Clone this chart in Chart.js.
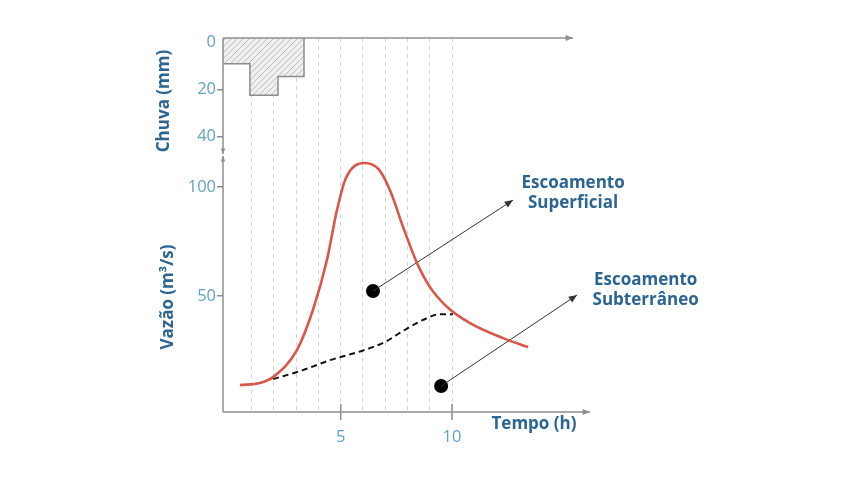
<!DOCTYPE html>
<html>
<head>
<meta charset="utf-8">
<script src="https://cdn.jsdelivr.net/npm/chart.js@4.4.0/dist/chart.umd.min.js"></script>
<style>
html, body { margin: 0; padding: 0; background: #fff; }
#wrap { width: 851px; height: 481px; }
</style>
</head>
<body>
<div id="wrap"><canvas id="grafico"></canvas></div>
<script>
// hidrograma: tempo (h) e vazão (m³/s)
const tempoTotal = [0.47, 1.37, 1.96, 3.03, 3.75, 4.38, 4.83, 5.22, 6.07, 6.70, 7.21, 7.80, 8.43, 9.01, 9.78, 10.81, 12.29, 13.42];
const vazaoTotal = [9.2, 10.1, 12.8, 25.2, 43.6, 66.5, 89.4, 103.8, 111, 108.2, 98.6, 81.7, 65.1, 54.1, 45, 37.6, 30.7, 26.6];
const tempoBase = [1.96, 3.30, 4.52, 6.0, 7.0, 7.80, 8.88, 9.46, 10.04];
const vazaoBase = [11.9, 16, 20.6, 25.0, 29.0, 34.0, 39.9, 41.7, 41.7];

// hietograma: limites dos intervalos (h) e altura de chuva (mm)
const tempoChuva = [-0.29, 0.92, 2.18, 3.35];
const alturaChuva = [9, 22.5, 14.5];

// marcadores, setas e rótulos
const marcadores = [{x: 6.45, y: 52.3}, {x: 9.51, y: 8.7}];
const pontasSetas = [{x: 12.74, y: 94}, {x: 15.62, y: 50.5}];
const rotulos = [['Escoamento', 'Superficial'], ['Escoamento', 'Subterrâneo']];
const posRotulos = [{x: 15.44, y: 97}, {x: 18.7, y: 52.8}];

// eixos
const horasGrade = [1, 2, 3, 4, 5, 6, 7, 8, 9, 10];
const ticksTempo = [5, 10];
const ticksVazao = [50, 100];
const ticksChuva = [0, 10, 20, 30, 40];
const rotulosChuva = [0, 20, 40];

const corEixo = '#8e8e8e';
const corTitulo = '#2c6592';
const corTick = '#62a3c0';
const fonteTick = {family: 'Open Sans', size: 16.5};

function hachura() {
    const c = document.createElement('canvas');
    c.width = 6; c.height = 6;
    const g = c.getContext('2d');
    g.fillStyle = '#efefef';
    g.fillRect(0, 0, 6, 6);
    g.strokeStyle = '#b4b4b4';
    g.lineWidth = 0.8;
    g.beginPath();
    g.moveTo(0, 6); g.lineTo(6, 0);
    g.moveTo(-1, 1); g.lineTo(1, -1);
    g.moveTo(5, 7); g.lineTo(7, 5);
    g.stroke();
    return g.createPattern(c, 'repeat');
}

function seta(ctx, x0, y0, x1, y1, tam) {
    const ang = Math.atan2(y1 - y0, x1 - x0);
    ctx.beginPath();
    ctx.moveTo(x1, y1);
    ctx.lineTo(x1 - tam * Math.cos(ang - 0.4), y1 - tam * Math.sin(ang - 0.4));
    ctx.lineTo(x1 - tam * Math.cos(ang + 0.4), y1 - tam * Math.sin(ang + 0.4));
    ctx.closePath();
    ctx.fill();
}

const desenho = {
    id: 'desenho',
    afterDraw(chart) {
        const {ctx, chartArea: a, scales: {x, y, y2}} = chart;
        ctx.save();
        ctx.strokeStyle = corEixo;
        ctx.fillStyle = corEixo;
        ctx.lineWidth = 1.5;

        // eixos com setas
        const topoFim = a.right - 17;
        ctx.beginPath();
        ctx.moveTo(a.left, y2.top); ctx.lineTo(topoFim, y2.top);
        ctx.moveTo(a.left, y2.top); ctx.lineTo(a.left, y2.bottom - 1);
        ctx.moveTo(a.left, y.bottom); ctx.lineTo(a.left, y.top + 1);
        ctx.moveTo(a.left, y.bottom); ctx.lineTo(a.right, y.bottom);
        ticksTempo.forEach(v => {
            const px = x.getPixelForValue(v);
            ctx.moveTo(px, y.bottom - 8); ctx.lineTo(px, y.bottom + 8);
        });
        ctx.stroke();
        seta(ctx, a.left, y2.top, topoFim, y2.top, 8);
        seta(ctx, a.right - 10, y.bottom, a.right, y.bottom, 8);
        seta(ctx, a.left, y2.top, a.left, y2.bottom - 1, 6);
        seta(ctx, a.left, y.bottom, a.left, y.top + 1, 6);

        // pontas das setas de anotação
        ctx.fillStyle = '#333';
        marcadores.forEach((m, i) => {
            seta(ctx, x.getPixelForValue(m.x), y.getPixelForValue(m.y),
                x.getPixelForValue(pontasSetas[i].x), y.getPixelForValue(pontasSetas[i].y), 9);
        });

        // títulos
        ctx.fillStyle = corTitulo;
        ctx.font = '700 17px "Open Sans"';
        ctx.textAlign = 'center';
        ctx.textBaseline = 'middle';
        rotulos.forEach((linhas, i) => {
            const px = x.getPixelForValue(posRotulos[i].x);
            const py = y.getPixelForValue(posRotulos[i].y);
            ctx.fillText(linhas[0], px, py - 10);
            ctx.fillText(linhas[1], px, py + 10);
        });
        ctx.fillText('Tempo (h)', 534, 424);

        ctx.translate(164, 101);
        ctx.rotate(-Math.PI / 2);
        ctx.fillText('Chuva (mm)', 0, 0);
        ctx.rotate(Math.PI / 2);
        ctx.translate(168 - 164, 297 - 101);
        ctx.rotate(-Math.PI / 2);
        ctx.fillText('Vazão (m³/s)', 0, 0);
        ctx.restore();
    }
};

const pontos = (xs, ys) => xs.map((t, i) => ({x: t, y: ys[i]}));
const chuvaMin = -2;
const dadosChuva = tempoChuva.map((t, i) => ({x: t, y: i < alturaChuva.length ? alturaChuva[i] : chuvaMin}));

const eixoY = (extra) => Object.assign({
    position: 'left',
    stack: 'painel',
    border: {display: false},
    grid: {drawOnChartArea: false, drawTicks: true, tickLength: 6, color: corEixo, lineWidth: 1.5},
    ticks: {color: corTick, padding: 1, font: fonteTick},
    afterFit: s => { s.width = 40; }
}, extra);

new Chart(document.getElementById('grafico').getContext('2d'), {
    type: 'line',
    data: {
        datasets: [
            {
                label: 'Chuva',
                data: dadosChuva,
                yAxisID: 'y2',
                stepped: 'before',
                fill: 'end',
                backgroundColor: hachura(),
                borderColor: '#8c8c8c',
                borderWidth: 1.5,
                pointRadius: 0
            },
            {
                label: 'Escoamento Superficial',
                data: pontos(tempoTotal, vazaoTotal),
                yAxisID: 'y',
                borderColor: '#d9574a',
                borderWidth: 2.6,
                cubicInterpolationMode: 'monotone',
                pointRadius: 0,
                fill: false
            },
            {
                label: 'Escoamento Subterrâneo',
                data: pontos(tempoBase, vazaoBase),
                yAxisID: 'y',
                borderColor: '#111',
                borderWidth: 2,
                borderDash: [6, 4],
                cubicInterpolationMode: 'monotone',
                pointRadius: 0,
                fill: false
            },
            ...marcadores.map((m, i) => ({
                label: 'seta' + i,
                data: [m, pontasSetas[i]],
                yAxisID: 'y',
                borderColor: '#333',
                borderWidth: 1,
                pointRadius: 0,
                fill: false
            })),
            {
                label: 'marcadores',
                data: marcadores,
                yAxisID: 'y',
                showLine: false,
                pointRadius: 7,
                pointBackgroundColor: '#000',
                pointBorderWidth: 0
            }
        ]
    },
    options: {
        responsive: true,
        maintainAspectRatio: false,
        animation: false,
        layout: {padding: {left: 183, right: 261, top: 38, bottom: 39}},
        plugins: {legend: {display: false}, tooltip: {enabled: false}},
        scales: {
            x: {
                type: 'linear',
                min: -0.29,
                max: 16.2,
                border: {display: false, dash: [4, 4]},
                grid: {color: '#d2d2d2', lineWidth: 1, drawTicks: false},
                afterBuildTicks: s => { s.ticks = horasGrade.map(v => ({value: v})); },
                ticks: {
                    color: corTick,
                    padding: 15,
                    font: fonteTick,
                    callback: v => ticksTempo.includes(v) ? String(v) : ''
                },
                afterFit: s => { s.height = 30; }
            },
            y: eixoY({
                type: 'linear',
                min: -3.2,
                max: 114.7,
                stackWeight: 257,
                afterBuildTicks: s => { s.ticks = ticksVazao.map(v => ({value: v})); }
            }),
            y2: eixoY({
                type: 'linear',
                min: chuvaMin,
                max: 48,
                reverse: true,
                stackWeight: 117,
                afterBuildTicks: s => { s.ticks = ticksChuva.map(v => ({value: v})); },
                grid: {
                    drawOnChartArea: false, drawTicks: true, tickLength: 6, lineWidth: 1.5,
                    color: c => c.tick && c.tick.value === 0 ? 'rgba(0,0,0,0)' : corEixo
                },
                ticks: {
                    color: corTick, padding: 1, font: fonteTick,
                    callback: v => rotulosChuva.includes(v) ? String(v) : ''
                }
            })
        }
    },
    plugins: [desenho]
});
</script>
</body>
</html>
